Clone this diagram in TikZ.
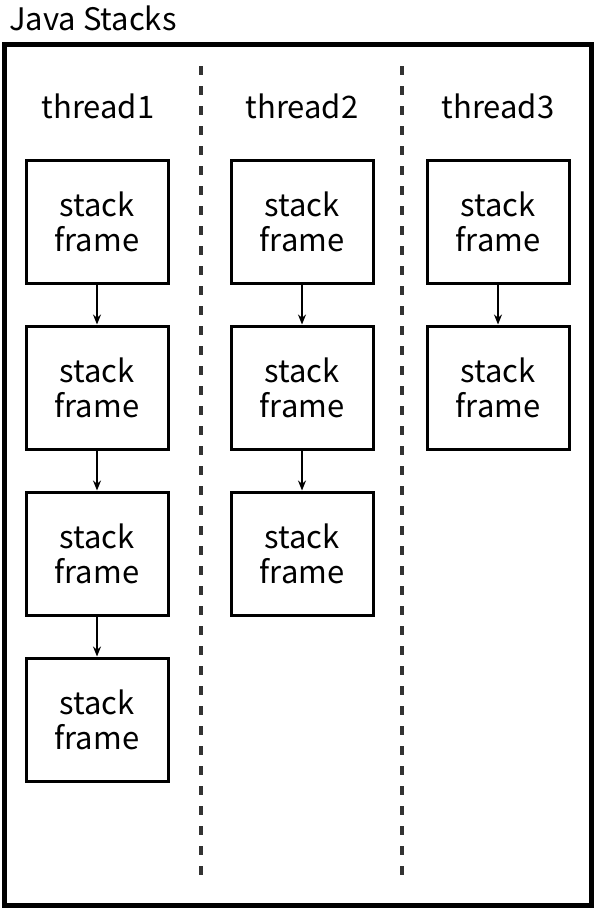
\documentclass[tikz,border=0pt]{standalone}
\usepackage{fontspec}
\setmainfont{Noto Sans CJK SC}
\usetikzlibrary{arrows.meta}
\begin{document}
\begin{tikzpicture}[x=1pt,y=-1pt,
  frm/.style={draw,line width=3pt,minimum width=142pt,minimum height=123pt,align=center,font=\fontsize{31}{35}\selectfont,inner sep=0pt},
  lbl/.style={font=\fontsize{31}{35}\selectfont,inner sep=0pt},
  conn/.style={line width=2pt,-{Stealth[length=10pt,width=8pt]}},
  sep/.style={line width=3.5pt,dash pattern=on 9pt off 11pt,black!80}]
\useasboundingbox (0,0) rectangle (594,908);
\node[lbl,anchor=west] (title) at (9,18) {Java Stacks};
\draw[line width=5pt] (4,44) rectangle (591,905);
\coordinate (d1t) at (201,66); \coordinate (d1b) at (201,880);
\coordinate (d2t) at (402,66); \coordinate (d2b) at (402,880);
\draw[sep] (d1t) -- (d1b);
\draw[sep] (d2t) -- (d2b);
\node[lbl] (t1) at (98,106) {thread1};
\node[lbl] (t2) at (302,106) {thread2};
\node[lbl] (t3) at (498,106) {thread3};
\foreach \i/\y in {1/221.5,2/387.5,3/553.5,4/719.5} {
  \node[frm] (a\i) at (97,\y) {stack\\frame};
}
\foreach \i/\y in {1/221.5,2/387.5,3/553.5} {
  \node[frm] (b\i) at (302,\y) {stack\\frame};
}
\foreach \i/\y in {1/221.5,2/387.5} {
  \node[frm] (c\i) at (498,\y) {stack\\frame};
}
\draw[conn] (a1) -- (a2);
\draw[conn] (a2) -- (a3);
\draw[conn] (a3) -- (a4);
\draw[conn] (b1) -- (b2);
\draw[conn] (b2) -- (b3);
\draw[conn] (c1) -- (c2);
\end{tikzpicture}
\end{document}
